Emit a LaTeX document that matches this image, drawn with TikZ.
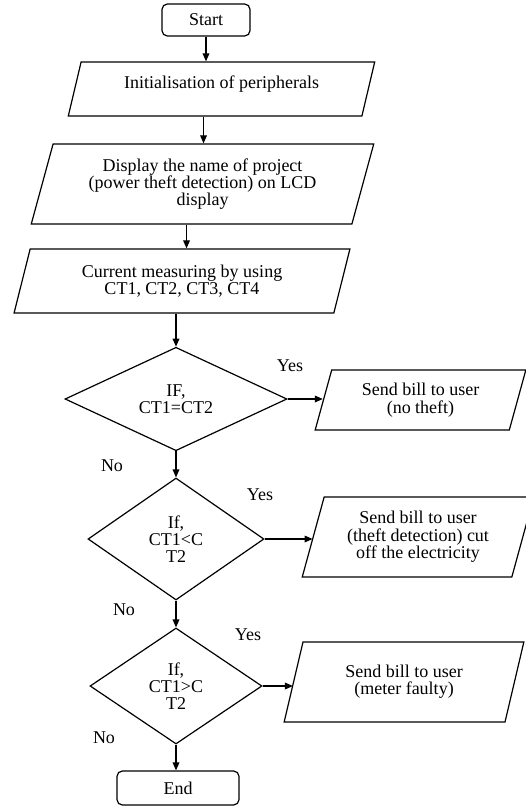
\documentclass[tikz,border=0pt]{standalone}
\usepackage{fontspec}
\setmainfont{Liberation Serif}
\usetikzlibrary{shapes.geometric,arrows.meta}
\tikzset{every picture/.style={line width=0.9pt}}
\tikzset{
  term/.style={draw, rounded corners=4pt, inner sep=0pt, align=center},
  io/.style={draw, trapezium, trapezium left angle=72, trapezium right angle=108,
    trapezium stretches=true, inner sep=0pt, align=center},
  decision/.style={draw, diamond, inner sep=0pt, align=center},
  flow/.style={-{Triangle[length=6pt,width=5pt]}},
  lbl/.style={inner sep=0pt},
}

\begin{document}
\begin{tikzpicture}[x=0.75pt,y=0.75pt,yscale=-1,xscale=1,
  font=\fontsize{13.5}{13}\selectfont]
\useasboundingbox (0,0) rectangle (525,807);

%Terminal: Start
\node[term, minimum width=66pt, minimum height=24pt] (start) at (206,20) {Start};
%Input/Output boxes
\node[io, minimum width=230.25pt, minimum height=40.5pt, text depth=11pt] (init) at (221.5,89) {Initialisation of peripherals};
\node[io, minimum width=257.25pt, minimum height=60pt] (disp) at (202.5,184) {Display the name of project\\(power theft detection) on LCD\\display};
\node[io, minimum width=252pt, minimum height=48pt] (curr) at (182,281) {Current measuring by using\\CT1, CT2, CT3, CT4};

%Decisions
\node[decision, minimum width=166.5pt, minimum height=76.5pt] (d1) at (176,399) {IF,\\CT1=CT2};
\node[decision, minimum width=132pt, minimum height=91.5pt] (d2) at (176,539) {If,\\CT1<C\\T2};
\node[decision, minimum width=129pt, minimum height=87pt] (d3) at (176,686) {If,\\CT1>C\\T2};

%Outputs
\node[io, minimum width=158.25pt, minimum height=45pt] (bill1) at (420.5,400) {Send bill to user\\(no theft)};
\node[io, minimum width=174pt, minimum height=60pt] (bill2) at (418,537) {Send bill to user\\(theft detection) cut\\off the electricity};
\node[io, minimum width=180pt, minimum height=60pt] (bill3) at (404,682) {Send bill to user\\(meter faulty)};

%Terminal: End
\node[term, minimum width=91.5pt, minimum height=25.5pt] (end) at (178,788) {End};

%Straight Lines
\draw[flow] (start.south) -- (start.south |- init.north);
\draw[flow] (init.south) ++(-18,0) coordinate (a1) -- (a1 |- disp.north);
\draw[flow] (disp.south) ++(-16,0) coordinate (a2) -- (a2 |- curr.north);
\draw[flow] (curr.south -| d1.north) -- (d1.north);
\draw[flow] (d1.south) -- (d2.north);
\draw[flow] (d2.south) -- (d3.north);
\draw[flow] (d3.south) -- (end.north -| d3.south);
\draw[flow] (d1.east) -- (d1.east -| bill1.west);
\draw[flow] (d2.east) -- (d2.east -| bill2.west);
\draw[flow] (d3.east) -- (d3.east -| bill3.west);

% Text Node
\node[lbl] (yes1) at (290,366) {Yes};
\node[lbl] (yes2) at (260,495) {Yes};
\node[lbl] (yes3) at (248,635) {Yes};
\node[lbl] (no1) at (112,466) {No};
\node[lbl] (no2) at (124,610) {No};
\node[lbl] (no3) at (104,738) {No};

\end{tikzpicture}
\end{document}
